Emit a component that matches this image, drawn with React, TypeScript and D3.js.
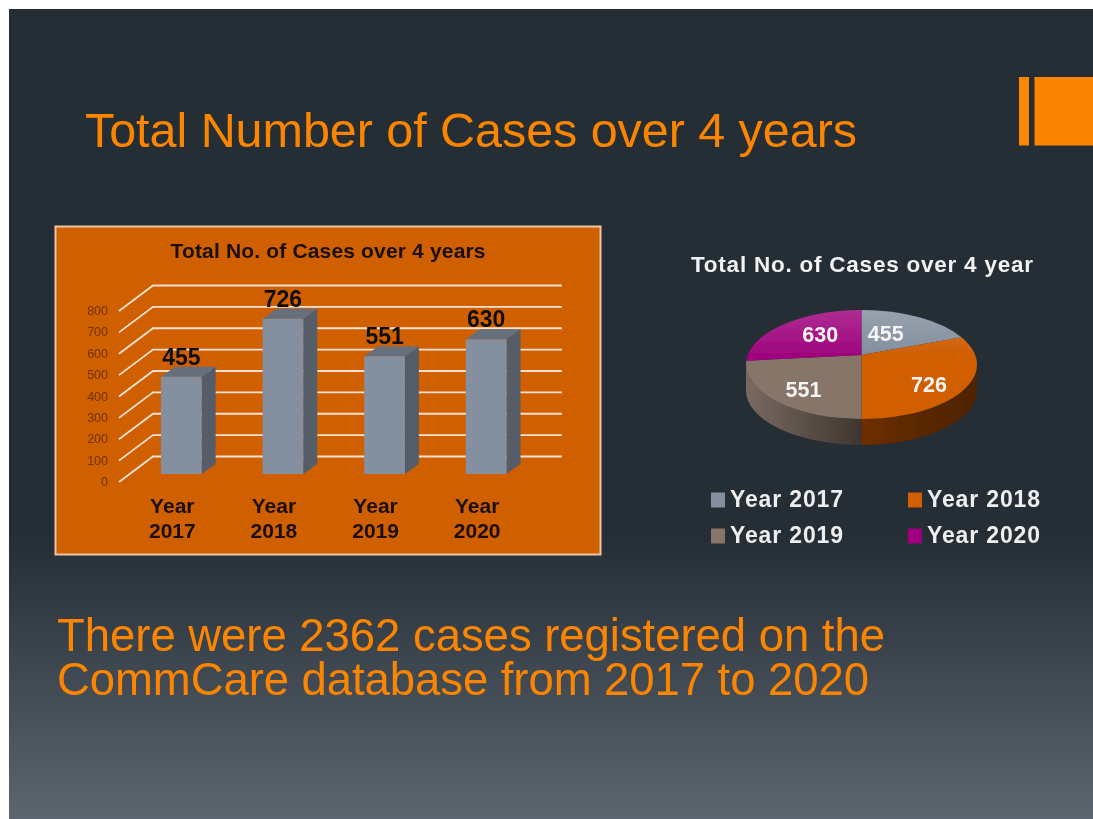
import React from "react";
import * as d3 from "d3";

const years = ["Year 2017", "Year 2018", "Year 2019", "Year 2020"];
const cases = [455, 726, 551, 630];
const ticks = [0, 100, 200, 300, 400, 500, 600, 700, 800];
const pieColors = ["#84909f", "#d15f05", "#867467", "#a0067f"];
const labelReachX = [0.37, 0.71, 0.75, 0.48];
const labelReachY = [0.49, 0.94, 0.86, 0.55];
const mainTitle = "Total Number of Cases over 4 years";
const barTitle = "Total No. of Cases over 4 years";
const pieTitle = "Total No. of Cases over 4 year";
const summary = ["There were 2362 cases registered on the", "CommCare database from 2017 to 2020"];

const FONT = "'Liberation Sans', Arial, sans-serif";
const ORANGE = "#fb8500";

const x = d3.scaleBand<string>().domain(years).range([130.5, 537]).paddingInner(0.6).paddingOuter(0.3);
const h = d3.scaleLinear().domain([0, 800]).range([0, 171]);
const BASE = 474, FRONT0 = 482, BACKX = 34, BACKY = 25.5, DX = 14, DY = 10;

// Pie geometry
const cx = 861.5, cy = 364.5, rx = 115.5, ry = 54.5, apexDy = -9.5, depth = 26, squash = 0.47;
function rim(theta: number): [number, number] {
  const dx = Math.sin(theta), dy = -Math.cos(theta) * squash;
  const A = (dx * dx) / (rx * rx) + (dy * dy) / (ry * ry);
  const B = (2 * apexDy * dy) / (ry * ry);
  const C = (apexDy * apexDy) / (ry * ry) - 1;
  const s = (-B + Math.sqrt(B * B - 4 * A * C)) / (2 * A);
  return [cx + s * dx, cy + apexDy + s * dy];
}
const arcs = d3.pie<number>().sort(null)(cases);

function slicePath(a0: number, a1: number) {
  const [x0, y0] = rim(a0), [x1, y1] = rim(a1);
  const large = a1 - a0 > Math.PI ? 1 : 0;
  return `M${cx},${cy + apexDy}L${x0},${y0}A${rx},${ry} 0 ${large} 1 ${x1},${y1}Z`;
}
function wall(x0: number, x1: number, sweep: number) {
  return `M${x0},${cy}A${rx},${ry} 0 0 ${sweep} ${x1},${cy + ry}L${x1},${cy + ry + depth}A${rx},${ry} 0 0 ${1 - sweep} ${x0},${cy + depth}Z`;
}

export default function App() {
  const bw = x.bandwidth();
  return (
    <svg width={1093} height={819} style={{ position: "absolute", left: 0, top: 0, background: "#fff" }} fontFamily={FONT}>
      <defs>
        <linearGradient id="bg" x1="0" y1="0" x2="0" y2="1">
          <stop offset="0" stopColor="#252d35" />
          <stop offset="0.65" stopColor="#252d35" />
          <stop offset="1" stopColor="#5c6670" />
        </linearGradient>
        <linearGradient id="gloss" x1="0" y1="0" x2="0" y2="1">
          <stop offset="0" stopColor="#fff" stopOpacity="0.16" />
          <stop offset="0.4" stopColor="#fff" stopOpacity="0" />
        </linearGradient>
        <linearGradient id="wallO" x1="0" y1="0" x2="1" y2="0">
          <stop offset="0" stopColor="#6e2f00" />
          <stop offset="0.5" stopColor="#5a2800" />
          <stop offset="1" stopColor="#4f2300" />
        </linearGradient>
        <linearGradient id="wallB" x1="0" y1="0" x2="1" y2="0">
          <stop offset="0" stopColor="#786a62" />
          <stop offset="1" stopColor="#40352f" />
        </linearGradient>
        <filter id="soft" x="0" y="0" width="1093" height="819" filterUnits="userSpaceOnUse">
          <feGaussianBlur stdDeviation="0.55" />
        </filter>
      </defs>

      <rect x={9} y={9} width={1084} height={810} fill="url(#bg)" />

      <g filter="url(#soft)">
        <rect x={1019} y={77} width={10} height={68.5} fill={ORANGE} />
        <rect x={1034.5} y={77} width={60} height={68.5} fill={ORANGE} />

        <text x={85} y={147} fontSize={48.5} fill={ORANGE} textLength={772}>{mainTitle}</text>

        {/* Bar chart panel */}
        <rect x={55.5} y={226.5} width={545} height={328} fill="#d05f06" stroke="#eec6a4" strokeWidth={2} />
        <text x={328} y={258} textAnchor="middle" fontSize={21} fontWeight={700} fill="#1a1008" textLength={315}>{barTitle}</text>

        {ticks.map((t) => {
          const fy = FRONT0 - h(t);
          return (
            <g key={t}>
              <path d={`M119,${fy}L${119 + BACKX},${fy - BACKY}H562`} fill="none" stroke="#f8e2cf" strokeWidth={1.8} />
              <text x={108} y={fy + 4} textAnchor="end" fontSize={12.5} fill="#6e3205">{t}</text>
            </g>
          );
        })}

        {years.map((y, i) => {
          const x0 = x(y)!, top = BASE - h(cases[i]);
          const [w1, w2] = y.split(" ");
          const mid = x0 + bw / 2;
          return (
            <g key={y}>
              <path d={`M${x0},${top}l${DX},${-DY}h${bw}l${-DX},${DY}Z`} fill="#656f7b" />
              <path d={`M${x0 + bw},${top}l${DX},${-DY}V${BASE - DY}l${-DX},${DY}Z`} fill="#545d68" />
              <rect x={x0} y={top} width={bw} height={h(cases[i])} fill="#84909f" />
              <text x={mid} y={top - 12} textAnchor="middle" fontSize={23} fontWeight={700} fill="#111">{cases[i]}</text>
              <text x={mid - 9} y={513} textAnchor="middle" fontSize={21} fontWeight={700} fill="#1a1008">{w1}</text>
              <text x={mid - 9} y={538} textAnchor="middle" fontSize={21} fontWeight={700} fill="#1a1008">{w2}</text>
            </g>
          );
        })}

        {/* Pie */}
        <text x={691} y={271.5} fontSize={22.5} fontWeight={700} fill="#f2f2f2" textLength={342}>{pieTitle}</text>
        <path d={wall(cx + rx, cx, 1)} fill="url(#wallO)" />
        <path d={wall(cx - rx, cx, 0)} fill="url(#wallB)" />
        {arcs.map((a, i) => (
          <path key={i} d={slicePath(a.startAngle, a.endAngle)} fill={pieColors[i]} />
        ))}
        <ellipse cx={cx} cy={cy} rx={rx} ry={ry} fill="url(#gloss)" />
        {arcs.map((a, i) => {
          const m = (a.startAngle + a.endAngle) / 2;
          const lx = cx + rx * labelReachX[i] * Math.sin(m);
          const ly = cy + apexDy - ry * labelReachY[i] * Math.cos(m);
          return (
            <text key={i} x={lx} y={ly + 7.5} textAnchor="middle" fontSize={21.5} fontWeight={700} fill="#f5f5f5">{cases[i]}</text>
          );
        })}

        {/* Legend */}
        {years.map((y, i) => {
          const lx = i % 2 === 0 ? 711 : 908;
          const ly = i < 2 ? 499.5 : 535.5;
          return (
            <g key={y}>
              <rect x={lx} y={ly - 7} width={14} height={15} fill={pieColors[i]} />
              <text x={lx + 19} y={ly + 7.5} fontSize={23} fontWeight={700} fill="#eeeeee" textLength={113}>{y}</text>
            </g>
          );
        })}

        {summary.map((s, i) => (
          <text key={i} x={57} y={651 + i * 44} fontSize={45.5} fill={ORANGE} textLength={i === 0 ? 828 : 812}>{s}</text>
        ))}
      </g>
    </svg>
  );
}
